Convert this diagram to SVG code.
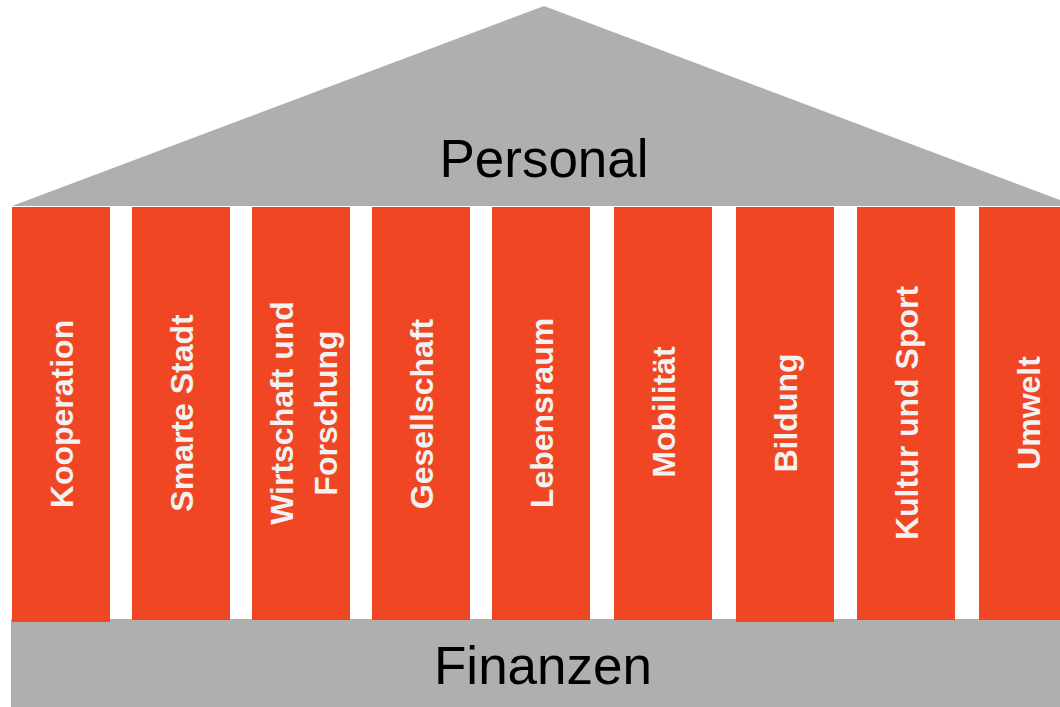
<svg xmlns="http://www.w3.org/2000/svg" width="1060" height="707" viewBox="0 0 1060 707">
  <style>
    .gray { fill: #AFAFAF; }
    .pillar { fill: #F04623; }
    .plabel { font-family: "Liberation Sans", Arial, sans-serif; font-weight: bold; font-size: 32px; fill: #F2F2F2; text-anchor: middle; }
    .title { font-family: "Liberation Sans", Arial, sans-serif; font-size: 53px; fill: #000000; text-anchor: middle; }
  </style>
  <rect x="0" y="0" width="1060" height="707" fill="#FFFFFF"/>
  <g id="roof">
    <polygon class="gray" points="12,206 544,6 1076,206"/>
    <text class="title" x="544" y="177">Personal</text>
  </g>
  <g id="base">
    <rect class="gray" x="11" y="619" width="1060" height="88"/>
    <text class="title" x="543" y="684">Finanzen</text>
  </g>
  <g id="pillar-kooperation">
    <rect class="pillar" x="12" y="207" width="98" height="415"/>
    <text class="plabel" transform="translate(73,414) rotate(-90)">Kooperation</text>
  </g>
  <g id="pillar-smarte-stadt">
    <rect class="pillar" x="132" y="207" width="98" height="413"/>
    <text class="plabel" transform="translate(193,413) rotate(-90)">Smarte Stadt</text>
  </g>
  <g id="pillar-wirtschaft">
    <rect class="pillar" x="252" y="207" width="98" height="413"/>
    <text class="plabel" transform="translate(293,413) rotate(-90)">Wirtschaft und</text>
    <text class="plabel" transform="translate(337,413) rotate(-90)">Forschung</text>
  </g>
  <g id="pillar-gesellschaft">
    <rect class="pillar" x="372" y="207" width="98" height="413"/>
    <text class="plabel" transform="translate(433,414) rotate(-90)">Gesellschaft</text>
  </g>
  <g id="pillar-lebensraum">
    <rect class="pillar" x="492" y="207" width="98" height="413"/>
    <text class="plabel" transform="translate(553,413) rotate(-90)">Lebensraum</text>
  </g>
  <g id="pillar-mobilitaet">
    <rect class="pillar" x="614" y="207" width="98" height="413"/>
    <text class="plabel" transform="translate(675,412) rotate(-90)">Mobilität</text>
  </g>
  <g id="pillar-bildung">
    <rect class="pillar" x="736" y="207" width="98" height="415"/>
    <text class="plabel" transform="translate(797,413) rotate(-90)">Bildung</text>
  </g>
  <g id="pillar-kultur">
    <rect class="pillar" x="857" y="207" width="98" height="413"/>
    <text class="plabel" transform="translate(918,413) rotate(-90)">Kultur und Sport</text>
  </g>
  <g id="pillar-umwelt">
    <rect class="pillar" x="979" y="207" width="98" height="413"/>
    <text class="plabel" transform="translate(1040,413) rotate(-90)">Umwelt</text>
  </g>
  <g id="connectors"></g>
</svg>
